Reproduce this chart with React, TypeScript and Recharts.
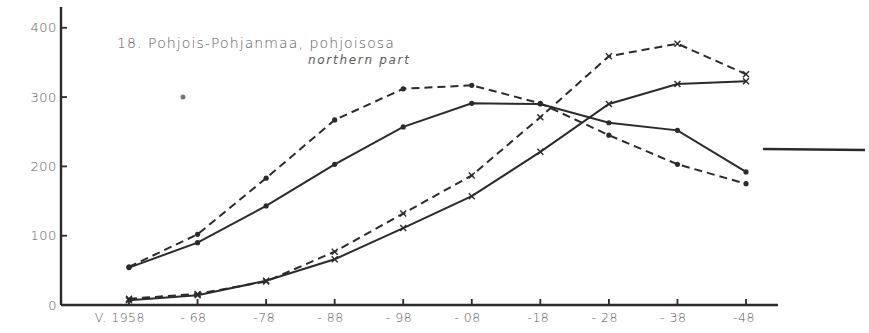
import React from 'react';
import { LineChart, Line, XAxis, YAxis } from 'recharts';

// Decades on the horizontal axis
const categories = ['V. 1958', '- 68', '-78', '- 88', '- 98', '- 08', '-18', '- 28', '- 38', '-48'];

// Series marked with dots
const dotSolid = [54, 90, 143, 203, 257, 291, 290, 263, 252, 192];
const dotDashed = [55, 102, 183, 267, 312, 317, 291, 245, 203, 175];

// Series marked with crosses
const crossSolid = [7, 14, 35, 66, 111, 157, 221, 290, 319, 323];
const crossDashed = [9, 16, 34, 77, 132, 187, 271, 359, 377, 333];

const yTicks = [0, 100, 200, 300, 400];

const data = categories.map((c, i) => ({
  cat: c,
  dotSolid: dotSolid[i],
  dotDashed: dotDashed[i],
  crossSolid: crossSolid[i],
  crossDashed: crossDashed[i],
}));

const INK = '#2b2b2b';
const TEXT = '#5a5a5a';
const FONT = '"DejaVu Sans", "Liberation Sans", sans-serif';

const DotMark = (props: any) => {
  const { cx, cy } = props;
  if (cx == null || cy == null) return null;
  return <circle cx={cx} cy={cy} r={2.6} fill={INK} />;
};

const CrossMark = (props: any) => {
  const { cx, cy } = props;
  if (cx == null || cy == null) return null;
  const s = 3;
  return (
    <g stroke={INK} strokeWidth={1.4}>
      <line x1={cx - s} y1={cy - s} x2={cx + s} y2={cy + s} />
      <line x1={cx - s} y1={cy + s} x2={cx + s} y2={cy - s} />
    </g>
  );
};

// Labels plus short inward tick marks, drawn from the tick anchor
const YTick = (props: any) => {
  const { x, y, payload } = props;
  return (
    <g>
      <path d={`M${x},${y}H${x + 6}`} stroke={INK} strokeWidth={1.8} fill="none" />
      <text x={x - 4} y={y} dy={4.5} textAnchor="end" fontSize={13} letterSpacing={0.6} fill={TEXT} fontFamily={FONT} fontWeight={300}>
        {payload.value}
      </text>
    </g>
  );
};

const XTick = (props: any) => {
  const { x, y, payload } = props;
  const label: string = String(payload.value);
  const shift = label.endsWith('1958') ? 16 : 9;
  return (
    <g>
      <path d={`M${x},${y}V${y - 6}`} stroke={INK} strokeWidth={1.8} fill="none" />
      <text x={x + shift} y={y} dy={17} textAnchor="end" fontSize={12.5} letterSpacing={0.5} fill={TEXT} fontFamily={FONT} fontWeight={300}>
        {label}
      </text>
    </g>
  );
};

export default function App() {
  return (
    <div style={{ position: 'absolute', left: 0, top: 0, width: 869, height: 333, background: '#fff' }}>
      <LineChart width={869} height={333} data={data} margin={{ top: 7, right: 91, bottom: 0, left: 0 }}>
        <XAxis
          dataKey="cat"
          padding={{ left: 68, right: 32 }}
          height={28}
          axisLine={{ stroke: INK, strokeWidth: 2.4 }}
          tickLine={false}
          tickSize={0}
          tickMargin={0}
          tick={<XTick />}
          interval={0}
        />
        <YAxis
          domain={[0, 430]}
          ticks={yTicks}
          width={61}
          axisLine={{ stroke: INK, strokeWidth: 2.4 }}
          tickLine={false}
          tickSize={0}
          tickMargin={0}
          tick={<YTick />}
          allowDataOverflow
        />
        <Line dataKey="dotSolid" stroke={INK} strokeWidth={2} dot={<DotMark />} isAnimationActive={false} />
        <Line dataKey="dotDashed" stroke={INK} strokeWidth={2} strokeDasharray="8 5" dot={<DotMark />} isAnimationActive={false} />
        <Line dataKey="crossSolid" stroke={INK} strokeWidth={2} dot={<CrossMark />} isAnimationActive={false} />
        <Line dataKey="crossDashed" stroke={INK} strokeWidth={2} strokeDasharray="8 5" dot={<CrossMark />} isAnimationActive={false} />
      </LineChart>
      <svg width={869} height={333} style={{ position: 'absolute', left: 0, top: 0, pointerEvents: 'none' }}>
        <text x={117} y={48} fontSize={14} letterSpacing={1.1} fill={TEXT} fontFamily={FONT} fontWeight={300}>
          18. Pohjois-Pohjanmaa, pohjoisosa
        </text>
        <text x={308} y={64} fontSize={12} letterSpacing={1.7} fill={TEXT} fontFamily={FONT} fontStyle="italic" fontWeight={300}>
          northern part
        </text>
        <line x1={763} y1={149} x2={865} y2={150} stroke={INK} strokeWidth={2.5} />
        <circle cx={183} cy={97} r={2.5} fill="#777" />
      </svg>
    </div>
  );
}
